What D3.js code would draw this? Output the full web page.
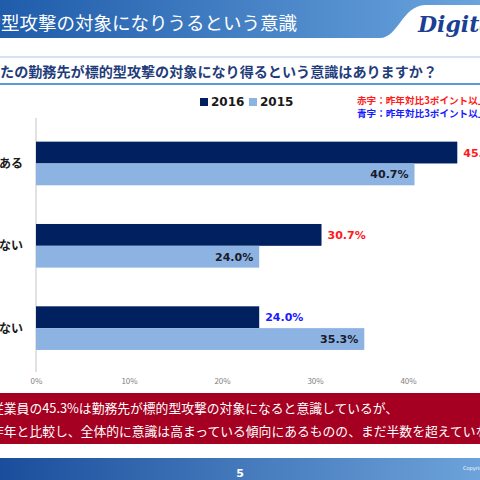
<!DOCTYPE html>
<html><head><meta charset="utf-8">
<script src="https://cdn.jsdelivr.net/npm/d3@7/dist/d3.min.js"></script>
<style>
html,body{margin:0;padding:0;background:#fff;overflow:hidden}
svg{display:block}
</style></head>
<body>
<script>
// ---- data ----
const categories = ["ある", "わからない", "ない"];
const seriesNames = ["2016", "2015"];
const values2016 = [45.3, 30.7, 24.0];
const values2015 = [40.7, 24.0, 35.3];
const tickValues = [0, 10, 20, 30, 40, 50];
const titleText = "標的型攻撃の対象になりうるという意識";
const questionText = "あなたの勤務先が標的型攻撃の対象になり得るという意識はありますか？";
const noteRed = "赤字：昨年対比3ポイント以上";
const noteBlue = "青字：昨年対比3ポイント以上";
const summaryLines = ["従業員の45.3%は勤務先が標的型攻撃の対象になると意識しているが、",
                      "昨年と比較し、全体的に意識は高まっている傾向にあるものの、まだ半数を超えていない。"];
const pageNumber = "5";

const W = 480, H = 480;
const svg = d3.select("body").append("svg").attr("width", W).attr("height", H);
const defs = svg.append("defs");
const hg = defs.append("linearGradient").attr("id","hg").attr("x1","0").attr("x2","1").attr("y1","0").attr("y2","0");
hg.append("stop").attr("offset","0").attr("stop-color","#1f5caa");
hg.append("stop").attr("offset","1").attr("stop-color","#6aa4de");
const fg = defs.append("linearGradient").attr("id","fg").attr("x1","0").attr("x2","1").attr("y1","0").attr("y2","0");
fg.append("stop").attr("offset","0").attr("stop-color","#1a4e9c");
fg.append("stop").attr("offset","1").attr("stop-color","#6da3da");

const JP = "'Noto Sans CJK JP', 'Noto Sans', sans-serif";
const VER = "'DejaVu Sans', Verdana, sans-serif";

// ---- header ----
svg.append("rect").attr("x",0).attr("y",0).attr("width",W).attr("height",38).attr("fill","url(#hg)");
svg.append("path").attr("d","M380,38 C398,38 402,6 425,5 L480,5 L480,38 Z").attr("fill","#fff");
svg.append("rect").attr("x",0).attr("y",38).attr("width",W).attr("height",18).attr("fill","#fff");
svg.append("text").attr("x",297).attr("y",30).attr("text-anchor","end")
  .attr("font-family",JP).attr("font-size",18.5).attr("fill","#fff").text(titleText);
svg.append("text").attr("x",418).attr("y",32)
  .attr("font-family","'DejaVu Serif', 'Liberation Serif', serif").attr("font-style","italic").attr("font-weight","bold")
  .attr("font-size",22).attr("fill","#1b3f93").text("Digital Arts");
svg.append("line").attr("x1",0).attr("x2",W).attr("y1",57).attr("y2",57).attr("stroke","#a9c8ea").attr("stroke-width",1);

// question
svg.append("text").attr("x",437).attr("y",77).attr("text-anchor","end")
  .attr("font-family",JP).attr("font-weight","bold").attr("font-size",14.1).attr("fill","#1f3d7a").text(questionText);
svg.append("line").attr("x1",0).attr("x2",W).attr("y1",84).attr("y2",84).attr("stroke","#5b9bd5").attr("stroke-width",2);

// ---- scales ----
const x = d3.scaleLinear().domain([0, 50]).range([36, 36 + 465]);
const y = d3.scaleBand().domain(categories).range([122.3, 369.3]).paddingInner(0.47).paddingOuter(0.235);
const ys = d3.scaleBand().domain(seriesNames).range([0, y.bandwidth()]).padding(0);
const color = d3.scaleOrdinal().domain(seriesNames).range(["#00205f", "#8db3e2"]);

const rows = categories.map((c, i) => ({cat: c, vals: [
  {s: "2016", v: values2016[i], diff: values2016[i] - values2015[i]},
  {s: "2015", v: values2015[i], diff: 0}
]}));

// legend
const legend = svg.append("g");
[["2016",200],["2015",249]].forEach(([s, lx]) => {
  legend.append("rect").attr("x",lx).attr("y",98).attr("width",8).attr("height",8).attr("fill",color(s));
  legend.append("text").attr("x",lx+11).attr("y",106).attr("font-family",VER).attr("font-weight","bold")
    .attr("font-size",12).attr("fill","#1a1a1a").text(s);
});
svg.append("text").attr("x",357).attr("y",104).attr("font-family",JP).attr("font-weight","bold")
  .attr("font-size",9.6).attr("fill","#ff1a1a").text(noteRed);
svg.append("text").attr("x",357).attr("y",117).attr("font-family",JP).attr("font-weight","bold")
  .attr("font-size",9.6).attr("fill","#1a1aff").text(noteBlue);

// axis line
svg.append("line").attr("x1",x(0)).attr("x2",x(0)).attr("y1",118).attr("y2",372).attr("stroke","#d9d9d9").attr("stroke-width",1.5);

// bars
const g = svg.append("g").selectAll("g").data(rows).join("g")
  .attr("transform", d => `translate(0,${y(d.cat)})`);
g.selectAll("rect").data(d => d.vals).join("rect")
  .attr("x", x(0)).attr("y", d => ys(d.s)).attr("width", d => x(d.v) - x(0)).attr("height", ys.bandwidth())
  .attr("fill", d => color(d.s));
g.selectAll("text.val").data(d => d.vals).join("text").attr("class","val")
  .attr("x", d => d.s === "2016" ? x(d.v) + 6 : x(d.v) - 6)
  .attr("y", d => ys(d.s) + ys.bandwidth()/2 + 4)
  .attr("text-anchor", d => d.s === "2016" ? "start" : "end")
  .attr("font-family", VER).attr("font-weight","bold").attr("font-size",11)
  .attr("fill", d => d.s === "2016" ? (d.diff >= 3 ? "#ff1a1a" : (d.diff <= -3 ? "#1a1aff" : "#1a1a1a")) : "#1a1a2a")
  .text(d => d.v.toFixed(1) + "%");

// category labels
svg.append("g").selectAll("text").data(categories).join("text")
  .attr("x", 23).attr("y", d => y(d) + y.bandwidth()/2 + 4.5).attr("text-anchor","end")
  .attr("font-family",JP).attr("font-weight","bold").attr("font-size",12).attr("fill","#1a1a1a").text(d => d);

// x axis ticks
const ax = svg.append("g").attr("transform","translate(0,372)")
  .call(d3.axisBottom(x).tickValues(tickValues).tickSize(0).tickPadding(6).tickFormat(d => d + "%"));
ax.select(".domain").remove();
ax.selectAll("text").attr("font-family",JP).attr("font-size",8).attr("fill","#7f7f7f");

// summary box
svg.append("rect").attr("x",0).attr("y",393).attr("width",W).attr("height",51).attr("fill","#a50021");
svg.append("g").selectAll("text").data(summaryLines).join("text")
  .attr("x", -9).attr("y", (d,i) => 413 + i*23)
  .attr("font-family",JP).attr("font-size",12.8).attr("fill","#fff").text(d => d);

// footer
svg.append("rect").attr("x",0).attr("y",458).attr("width",W).attr("height",22).attr("fill","url(#fg)");
svg.append("text").attr("x",240).attr("y",477).attr("text-anchor","middle").attr("font-family",VER)
  .attr("font-weight","bold").attr("font-size",11).attr("fill","#fff").text(pageNumber);
svg.append("text").attr("x",463).attr("y",470).attr("font-family",VER).attr("font-size",5).attr("fill","#fff").text("Copyright");
</script>
</body></html>
